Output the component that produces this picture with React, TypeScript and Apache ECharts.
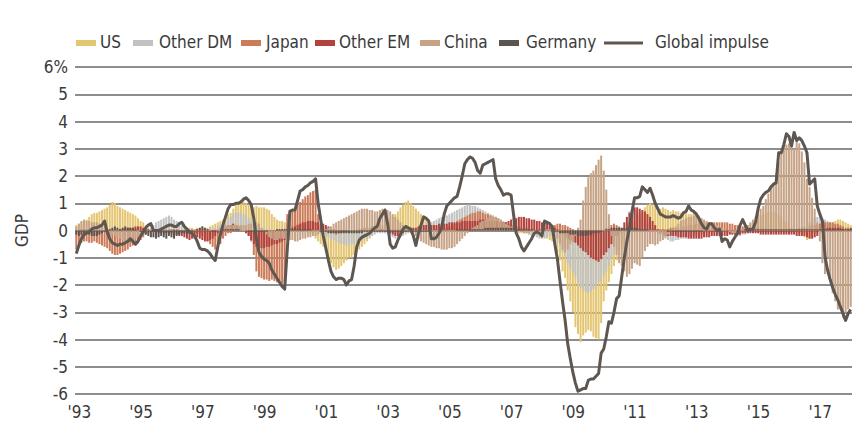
import React, { useEffect, useRef } from "react";
import * as echarts from "echarts";

// Monthly categories Jan 1993 .. Feb 2018
const startYear = 1993;
const monthCount = 302;
const categories: string[] = [];
for (let i = 0; i < monthCount; i++) {
  const y = startYear + Math.floor(i / 12);
  const m = (i % 12) + 1;
  categories.push(`${y}-${m < 10 ? "0" + m : m}`);
}

const us = [
  0.2, 0.25, 0.3, 0.35, 0.4, 0.5, 0.6, 0.65, 0.65, 0.7, 0.75, 0.8,
  0.85, 0.95, 1.05, 1.0, 0.9, 0.85, 0.8, 0.75, 0.7, 0.65, 0.6, 0.55,
  0.45, 0.35, 0.3, 0.2, 0.1, 0.05, 0.0, -0.05, 0.0, 0.05, 0.05, 0.0,
  0.0, 0.05, 0.05, 0.1, 0.1, 0.05, 0.0, 0.05, 0.1, 0.1, 0.05, 0.1,
  0.1, 0.15, 0.1, 0.1, 0.15, 0.2, 0.25, 0.3, 0.35, 0.4, 0.5, 0.6,
  0.65, 0.8, 0.95, 1.05, 1.1, 1.05, 1.0, 0.95, 0.9, 0.85, 0.9, 0.85,
  0.85, 0.85, 0.8, 0.75, 0.6, 0.5, 0.4, 0.35, 0.35, 0.3, 0.25, 0.2,
  0.15, 0.1, 0.05, 0.0, 0.0, -0.05, -0.1, -0.15, -0.2, -0.3, -0.4, -0.5,
  -0.6, -0.8, -1.0, -1.2, -1.35, -1.45, -1.4, -1.3, -1.2, -1.1, -1.0, -1.0,
  -0.9, -0.8, -0.7, -0.6, -0.5, -0.4, -0.3, -0.2, -0.1, 0.0, 0.1, 0.2,
  0.2, 0.3, 0.4, 0.5, 0.6, 0.7, 0.85, 0.95, 1.05, 1.1, 1.0, 0.9,
  0.8, 0.7, 0.6, 0.5, 0.45, 0.4, 0.3, 0.2, 0.15, 0.1, 0.05, 0.0,
  0.0, 0.05, 0.05, 0.1, 0.1, 0.1, 0.1, 0.05, 0.05, 0.0, 0.0, 0.0,
  0.0, 0.1, 0.2, 0.3, 0.4, 0.5, 0.55, 0.5, 0.45, 0.35, 0.25, 0.15,
  0.1, 0.05, 0.0, -0.05, -0.1, -0.1, -0.1, -0.1, -0.15, -0.15, -0.2, -0.2,
  -0.2, -0.2, -0.25, -0.3, -0.35, -0.4, -0.55, -0.8, -1.1, -1.5, -1.75, -2.2,
  -2.6, -3.0, -3.55, -3.8, -4.1, -3.85, -3.75, -3.65, -3.7, -3.9, -3.95, -4.0,
  -3.4, -2.6, -2.2, -1.9, -1.6, -1.3, -1.1, -0.9, -0.7, -0.55, -0.3, -0.05,
  0.1, 0.3, 0.5, 0.6, 0.7, 0.85, 0.95, 1.0, 0.95, 0.9, 0.85, 0.8,
  0.85, 0.8, 0.75, 0.7, 0.75, 0.7, 0.7, 0.65, 0.7, 0.65, 0.6, 0.6,
  0.7, 0.65, 0.55, 0.45, 0.35, 0.3, 0.25, 0.2, 0.2, 0.15, 0.1, 0.1,
  0.05, 0.0, -0.05, -0.1, -0.05, 0.0, 0.05, 0.1, 0.15, 0.2, 0.25, 0.3,
  0.35, 0.45, 0.55, 0.6, 0.65, 0.7, 0.7, 0.7, 0.65, 0.6, 0.5, 0.4,
  0.3, 0.2, 0.1, 0.05, 0.0, -0.1, -0.15, -0.25, -0.35, -0.3, -0.2, -0.1,
  0.0, 0.1, 0.15, 0.2, 0.25, 0.3, 0.3, 0.35, 0.4, 0.4, 0.35, 0.3,
  0.25, 0.2,
];

const otherDM = [
  0.0, 0.0, 0.0, 0.05, 0.05, 0.05, 0.05, 0.05, 0.05, 0.05, 0.05, 0.05,
  0.05, 0.05, 0.05, 0.05, 0.0, 0.0, 0.0, 0.0, 0.0, 0.0, 0.0, 0.0,
  0.0, 0.0, 0.0, 0.0, 0.05, 0.1, 0.2, 0.3, 0.35, 0.4, 0.45, 0.5,
  0.55, 0.5, 0.4, 0.35, 0.3, 0.2, 0.15, 0.1, 0.05, 0.0, 0.0, 0.0,
  0.0, 0.0, 0.05, 0.05, 0.05, 0.1, 0.1, 0.15, 0.2, 0.25, 0.3, 0.4,
  0.5, 0.6, 0.65, 0.65, 0.65, 0.6, 0.55, 0.45, 0.35, 0.25, 0.2, 0.15,
  0.1, 0.1, 0.05, 0.05, 0.0, 0.0, 0.0, 0.0, 0.05, 0.1, 0.15, 0.2,
  0.2, 0.2, 0.25, 0.25, 0.2, 0.2, 0.15, 0.1, 0.05, 0.0, -0.05, -0.1,
  -0.15, -0.2, -0.25, -0.3, -0.35, -0.4, -0.45, -0.5, -0.5, -0.55, -0.55, -0.5,
  -0.5, -0.45, -0.4, -0.35, -0.3, -0.3, -0.25, -0.2, -0.15, -0.1, -0.1, -0.1,
  -0.1, -0.15, -0.2, -0.25, -0.3, -0.3, -0.25, -0.2, -0.15, -0.1, -0.05, 0.0,
  0.05, 0.1, 0.15, 0.2, 0.25, 0.25, 0.3, 0.35, 0.4, 0.45, 0.5, 0.55,
  0.55, 0.6, 0.65, 0.7, 0.75, 0.8, 0.85, 0.9, 0.95, 0.95, 0.9, 0.9,
  0.85, 0.8, 0.75, 0.7, 0.65, 0.6, 0.55, 0.5, 0.45, 0.4, 0.35, 0.3,
  0.25, 0.2, 0.15, 0.1, 0.05, 0.0, -0.05, -0.1, -0.15, -0.2, -0.2, -0.25,
  -0.3, -0.3, -0.3, -0.25, -0.2, -0.2, -0.3, -0.45, -0.6, -0.8, -1.0, -1.2,
  -1.4, -1.55, -1.7, -1.9, -2.1, -2.2, -2.25, -2.3, -2.25, -2.15, -2.05, -1.9,
  -1.85, -1.65, -1.5, -1.3, -1.05, -0.85, -0.7, -0.5, -0.3, -0.1, 0.3, 0.7,
  0.85, 0.8, 0.7, 0.6, 0.5, 0.4, 0.3, 0.2, 0.1, 0.0, -0.1, -0.15,
  -0.2, -0.3, -0.35, -0.4, -0.4, -0.35, -0.35, -0.3, -0.3, -0.3, -0.25, -0.25,
  -0.2, -0.2, -0.15, -0.15, -0.1, -0.1, -0.05, 0.0, 0.0, 0.0, 0.0, 0.0,
  -0.05, -0.1, -0.1, -0.15, -0.15, -0.2, -0.2, -0.15, -0.15, -0.1, -0.05, 0.0,
  0.05, 0.05, 0.1, 0.1, 0.1, 0.1, 0.1, 0.05, 0.05, 0.05, 0.0, 0.0,
  0.0, 0.0, 0.0, 0.0, 0.05, 0.05, 0.1, 0.15, 0.2, 0.3, 0.4, 0.45,
  0.5, 0.5, 0.45, 0.4, 0.35, 0.3, 0.25, 0.2, 0.15, 0.1, 0.1, 0.05,
  0.05, 0.05,
];

const japan = [
  -0.7, -0.6, -0.45, -0.4, -0.4, -0.45, -0.45, -0.4, -0.45, -0.5, -0.55, -0.6,
  -0.65, -0.75, -0.85, -0.9, -0.9, -0.85, -0.8, -0.75, -0.7, -0.6, -0.55, -0.5,
  -0.45, -0.35, -0.25, -0.15, -0.1, -0.05, 0.0, 0.0, 0.05, 0.05, 0.0, 0.0,
  0.0, 0.05, 0.05, 0.05, 0.0, 0.0, 0.0, -0.05, -0.05, -0.05, -0.1, -0.1,
  -0.1, -0.2, -0.3, -0.4, -0.5, -0.6, -0.7, -0.65, -0.5, -0.3, -0.2, -0.1,
  -0.1, -0.05, 0.0, 0.05, 0.05, 0.0, -0.1, -0.2, -0.4, -0.9, -1.5, -1.7,
  -1.75, -1.8, -1.8, -1.85, -1.8, -1.85, -1.9, -1.85, -1.95, -1.9, 0.6, 0.7,
  0.75, 0.85, 0.95, 1.05, 1.15, 1.25, 1.3, 1.4, 1.45, 1.5, 0.6, 0.2,
  0.1, 0.0, -0.05, -0.1, -0.1, -0.15, -0.1, -0.1, -0.05, -0.05, 0.0, 0.0,
  0.0, 0.0, 0.0, 0.0, 0.0, 0.0, 0.0, 0.0, 0.05, 0.05, 0.05, 0.05,
  0.05, 0.05, 0.05, 0.05, 0.05, 0.05, 0.05, 0.05, 0.05, 0.05, 0.05, 0.05,
  0.05, 0.0, 0.0, -0.05, -0.05, -0.05, 0.0, 0.0, 0.05, 0.05, 0.05, 0.1,
  0.1, 0.15, 0.2, 0.25, 0.35, 0.4, 0.45, 0.5, 0.55, 0.6, 0.65, 0.65,
  0.7, 0.7, 0.65, 0.6, 0.6, 0.55, 0.5, 0.45, 0.4, 0.35, 0.3, 0.3,
  0.25, 0.2, 0.2, 0.15, 0.15, 0.1, 0.1, 0.1, 0.05, 0.05, 0.05, 0.05,
  0.05, 0.05, 0.1, 0.1, 0.15, 0.2, 0.2, 0.25, 0.25, 0.2, 0.2, 0.15,
  0.1, 0.05, 0.0, -0.05, -0.1, -0.15, -0.2, -0.2, -0.2, -0.15, -0.1, -0.05,
  0.0, 0.05, 0.1, 0.15, 0.2, 0.25, 0.2, 0.15, 0.1, 0.05, 0.0, 0.0,
  0.0, 0.0, 0.0, -0.05, -0.05, -0.05, 0.0, 0.0, 0.05, 0.05, 0.05, 0.05,
  0.05, 0.05, 0.05, 0.1, 0.1, 0.1, 0.1, 0.1, 0.15, 0.15, 0.2, 0.2,
  0.2, 0.25, 0.25, 0.25, 0.3, 0.3, 0.3, 0.3, 0.3, 0.3, 0.3, 0.3,
  0.3, 0.3, 0.25, 0.25, 0.2, 0.2, 0.2, 0.15, 0.15, 0.15, 0.1, 0.1,
  0.1, 0.1, 0.05, 0.05, 0.05, 0.05, 0.05, 0.05, 0.05, 0.0, 0.0, 0.0,
  0.0, 0.0, 0.05, 0.05, 0.05, 0.1, 0.1, 0.1, 0.15, 0.15, 0.2, 0.2,
  0.25, 0.25, 0.3, 0.3, 0.3, 0.3, 0.3, 0.25, 0.25, 0.2, 0.15, 0.1,
  0.1, 0.05,
];

const otherEM = [
  0.0, 0.0, 0.05, 0.05, 0.05, 0.05, 0.05, 0.05, 0.0, 0.0, 0.0, 0.0,
  0.0, 0.0, 0.0, 0.0, 0.0, 0.05, 0.05, 0.05, 0.1, 0.1, 0.1, 0.15,
  0.15, 0.15, 0.1, 0.1, 0.05, 0.0, -0.05, -0.05, -0.1, -0.1, -0.1, -0.1,
  -0.1, -0.1, -0.15, -0.15, -0.2, -0.2, -0.25, -0.3, -0.35, -0.3, -0.3, -0.25,
  -0.3, -0.35, -0.4, -0.4, -0.35, -0.3, -0.2, -0.1, 0.0, 0.1, 0.15, 0.2,
  0.2, 0.25, 0.2, 0.15, 0.1, 0.0, -0.1, -0.2, -0.35, -0.5, -0.6, -0.65,
  -0.65, -0.65, -0.6, -0.6, -0.55, -0.5, -0.5, -0.45, -0.4, -0.35, -0.2, 0.0,
  0.1, 0.15, 0.2, 0.25, 0.3, 0.3, 0.35, 0.35, 0.35, 0.3, 0.3, 0.25,
  0.25, 0.2, 0.15, 0.1, 0.05, 0.0, 0.0, -0.05, -0.05, -0.05, 0.0, 0.0,
  0.0, 0.0, 0.05, 0.05, 0.1, 0.1, 0.1, 0.15, 0.15, 0.1, 0.1, 0.05,
  0.0, -0.05, -0.1, -0.15, -0.2, -0.2, -0.15, -0.1, -0.05, 0.0, 0.05, 0.1,
  0.1, 0.15, 0.15, 0.2, 0.2, 0.2, 0.2, 0.2, 0.2, 0.25, 0.25, 0.25,
  0.25, 0.3, 0.3, 0.3, 0.3, 0.3, 0.35, 0.35, 0.35, 0.35, 0.35, 0.35,
  0.35, 0.4, 0.4, 0.4, 0.35, 0.35, 0.35, 0.35, 0.3, 0.3, 0.3, 0.3,
  0.35, 0.4, 0.45, 0.45, 0.5, 0.5, 0.5, 0.45, 0.45, 0.4, 0.4, 0.35,
  0.35, 0.3, 0.3, 0.25, 0.2, 0.15, 0.1, 0.05, 0.0, -0.1, -0.2, -0.3,
  -0.35, -0.4, -0.45, -0.55, -0.65, -0.75, -0.8, -0.9, -1.0, -1.05, -1.1, -1.15,
  -1.05, -0.9, -0.8, -0.65, -0.5, -0.35, -0.2, -0.1, 0.05, 0.3, 0.5, 0.65,
  0.8, 0.85, 0.85, 0.8, 0.75, 0.7, 0.6, 0.5, 0.35, 0.2, 0.05, -0.1,
  -0.15, -0.2, -0.2, -0.2, -0.2, -0.2, -0.25, -0.25, -0.25, -0.25, -0.3, -0.3,
  -0.3, -0.3, -0.3, -0.3, -0.25, -0.25, -0.25, -0.2, -0.2, -0.2, -0.2, -0.2,
  -0.2, -0.2, -0.15, -0.15, -0.15, -0.15, -0.15, -0.1, -0.1, -0.1, -0.1, -0.1,
  -0.1, -0.1, -0.15, -0.15, -0.15, -0.15, -0.15, -0.15, -0.15, -0.15, -0.15, -0.15,
  -0.15, -0.15, -0.15, -0.15, -0.2, -0.2, -0.2, -0.2, -0.25, -0.3, -0.3, -0.25,
  -0.2, -0.1, 0.0, 0.05, 0.1, 0.1, 0.1, 0.1, 0.1, 0.1, 0.05, 0.0,
  0.05, 0.1,
];

const china = [
  0.15, 0.25, 0.35, 0.4, 0.35, 0.35, 0.3, 0.3, 0.3, 0.25, 0.2, 0.15,
  0.05, -0.05, -0.15, -0.2, -0.25, -0.3, -0.35, -0.4, -0.4, -0.35, -0.3, -0.3,
  -0.25, -0.2, -0.15, -0.1, -0.05, 0.0, 0.0, 0.0, 0.05, 0.05, 0.05, 0.05,
  0.05, 0.05, 0.0, 0.0, 0.0, 0.0, 0.0, 0.0, 0.0, 0.05, 0.05, 0.05,
  0.05, 0.05, 0.05, 0.05, 0.05, 0.0, 0.0, 0.05, 0.1, 0.15, 0.2, 0.2,
  0.2, 0.2, 0.2, 0.2, 0.2, 0.2, 0.2, 0.25, 0.25, 0.3, 0.3, 0.25,
  0.1, -0.05, -0.15, -0.25, -0.3, -0.35, -0.35, -0.3, -0.3, -0.3, -0.3, -0.35,
  -0.35, -0.4, -0.4, -0.35, -0.3, -0.3, -0.25, -0.25, -0.2, -0.2, -0.15, -0.1,
  0.0, 0.05, 0.1, 0.15, 0.25, 0.3, 0.35, 0.4, 0.45, 0.5, 0.55, 0.6,
  0.65, 0.7, 0.75, 0.8, 0.8, 0.8, 0.75, 0.75, 0.7, 0.7, 0.75, 0.8,
  0.8, 0.75, 0.7, 0.6, 0.5, 0.4, 0.3, 0.2, 0.1, 0.0, -0.1, -0.2,
  -0.2, -0.3, -0.4, -0.45, -0.5, -0.55, -0.6, -0.6, -0.65, -0.65, -0.7, -0.7,
  -0.7, -0.65, -0.65, -0.6, -0.5, -0.4, -0.3, -0.2, -0.1, 0.0, 0.1, 0.15,
  0.2, 0.3, 0.35, 0.4, 0.45, 0.5, 0.5, 0.5, 0.45, 0.4, 0.3, 0.25,
  0.2, 0.15, 0.1, 0.05, 0.0, -0.05, -0.1, -0.1, -0.1, -0.05, 0.0, 0.0,
  0.0, 0.0, 0.0, 0.05, 0.05, 0.0, -0.1, -0.3, -0.5, -0.7, -0.8, -0.7,
  -0.5, -0.4, -0.2, 0.1, 0.4, 1.1, 1.6, 1.95, 2.1, 2.2, 2.4, 2.6,
  2.75, 2.2, 1.5, 0.6, -0.2, -0.6, -0.9, -1.2, -1.3, -1.5, -1.7, -1.6,
  -1.4, -1.2, -1.25, -1.3, -1.0, -0.75, -0.6, -0.5, -0.5, -0.55, -0.5, -0.4,
  -0.35, -0.25, -0.15, -0.05, 0.05, 0.15, 0.25, 0.35, 0.4, 0.45, 0.5, 0.5,
  0.55, 0.55, 0.5, 0.45, 0.4, 0.35, 0.3, 0.25, 0.2, 0.2, 0.15, 0.1,
  0.05, 0.0, -0.05, -0.1, -0.1, -0.05, 0.0, 0.05, 0.1, 0.2, 0.3, 0.4,
  0.5, 0.65, 0.8, 0.9, 1.15, 1.35, 1.55, 1.75, 2.1, 2.5, 2.85, 3.1,
  3.15, 3.2, 3.1, 3.0, 3.3, 3.2, 2.9, 2.5, 1.9, 1.6, 1.2, 0.8,
  0.3, -0.4, -1.2, -1.6, -1.0, -1.8, -2.3, -2.6, -2.9, -2.9, -3.2, -3.0,
  -2.9, -2.8,
];

const germany = [
  -0.15, -0.2, -0.15, -0.1, -0.1, -0.15, -0.2, -0.2, -0.2, -0.15, -0.1, -0.05,
  0.0, 0.05, 0.1, 0.15, 0.1, 0.05, 0.1, 0.15, 0.1, 0.1, 0.1, 0.05,
  0.0, -0.05, -0.1, -0.15, -0.2, -0.25, -0.25, -0.3, -0.25, -0.2, -0.25, -0.3,
  -0.2, -0.25, -0.3, -0.2, -0.15, -0.1, -0.1, -0.15, -0.1, -0.05, 0.0, 0.05,
  0.1, 0.15, 0.1, 0.05, 0.0, -0.05, -0.05, 0.0, 0.0, 0.05, 0.05, 0.05,
  0.05, 0.05, 0.05, 0.05, 0.0, 0.0, 0.0, -0.05, -0.05, -0.05, -0.05, -0.05,
  -0.05, -0.05, -0.05, 0.0, 0.0, 0.0, 0.05, 0.05, 0.05, 0.05, 0.05, 0.05,
  0.05, 0.05, 0.05, 0.05, 0.05, 0.05, 0.05, 0.05, 0.0, 0.0, 0.0, -0.05,
  -0.05, -0.05, -0.1, -0.1, -0.1, -0.1, -0.1, -0.1, -0.1, -0.1, -0.1, -0.1,
  -0.1, -0.1, -0.1, -0.1, -0.05, -0.05, -0.05, -0.05, -0.05, -0.05, -0.05, -0.05,
  -0.05, -0.05, -0.05, -0.05, -0.05, -0.05, -0.05, -0.05, -0.05, -0.05, -0.05, -0.05,
  -0.05, -0.05, -0.05, -0.05, -0.05, -0.05, 0.0, 0.0, 0.0, 0.0, 0.0, 0.0,
  0.0, 0.0, 0.0, 0.0, 0.05, 0.05, 0.05, 0.05, 0.05, 0.05, 0.05, 0.05,
  0.05, 0.05, 0.05, 0.1, 0.1, 0.1, 0.1, 0.1, 0.1, 0.1, 0.1, 0.1,
  0.1, 0.1, 0.1, 0.1, 0.05, 0.05, 0.05, 0.05, 0.05, 0.05, 0.0, 0.0,
  0.0, 0.0, 0.0, 0.0, 0.0, -0.05, -0.05, -0.05, -0.1, -0.1, -0.1, -0.1,
  -0.15, -0.15, -0.15, -0.2, -0.2, -0.2, -0.2, -0.15, -0.15, -0.1, -0.1, -0.1,
  -0.05, 0.0, 0.05, 0.05, 0.1, 0.1, 0.1, 0.1, 0.1, 0.1, 0.1, 0.1,
  0.1, 0.1, 0.1, 0.05, 0.05, 0.05, 0.05, 0.0, 0.0, 0.0, 0.0, 0.0,
  0.0, 0.0, -0.05, -0.05, -0.05, -0.05, -0.05, -0.05, -0.05, -0.05, -0.05, -0.05,
  -0.05, -0.05, -0.05, -0.05, 0.0, 0.0, 0.0, 0.0, 0.0, 0.0, 0.0, 0.0,
  0.0, 0.0, 0.0, 0.0, 0.0, 0.0, 0.0, 0.0, 0.05, 0.05, 0.05, 0.05,
  0.05, 0.05, 0.05, 0.05, 0.05, 0.05, 0.05, 0.05, 0.05, 0.05, 0.05, 0.05,
  0.05, 0.05, 0.05, 0.05, 0.05, 0.05, 0.05, 0.05, 0.05, 0.05, 0.05, 0.05,
  0.05, 0.05, 0.05, 0.05, 0.05, 0.05, 0.05, 0.05, 0.05, 0.05, 0.05, 0.05,
  0.05, 0.05,
];

const globalImpulse = [
  -0.85, -0.55, -0.3, -0.15, -0.1, -0.05, 0.05, 0.1, 0.1, 0.15, 0.2, 0.35,
  -0.05, -0.3, -0.45, -0.5, -0.55, -0.5, -0.5, -0.45, -0.4, -0.3, -0.4, -0.5,
  -0.4, -0.2, -0.05, 0.1, 0.2, 0.25, 0.0, 0.0, 0.0, 0.05, 0.1, 0.15,
  0.2, 0.2, 0.15, 0.15, 0.25, 0.3, 0.15, 0.05, -0.05, -0.1, -0.2, -0.4,
  -0.65, -0.7, -0.7, -0.75, -0.85, -1.0, -1.1, -0.6, -0.15, 0.2, 0.5, 0.8,
  0.95, 0.95, 1.0, 1.0, 1.05, 1.15, 1.2, 1.1, 0.95, 0.45, -0.3, -0.8,
  -0.95, -1.05, -1.1, -1.2, -1.45, -1.6, -1.75, -1.9, -2.05, -2.15, -0.7, 0.7,
  0.75, 0.75, 1.1, 1.45, 1.5, 1.6, 1.65, 1.75, 1.8, 1.9, 1.0, 0.4,
  -0.2, -0.65, -1.1, -1.5, -1.7, -1.8, -1.75, -1.75, -1.8, -2.0, -1.85, -1.8,
  -1.3, -0.6, -0.35, -0.25, -0.2, -0.15, -0.1, 0.0, 0.1, 0.15, 0.45, 0.6,
  0.75, 0.25, -0.5, -0.65, -0.6, -0.35, -0.15, 0.05, 0.15, 0.1, 0.05, -0.2,
  -0.55, -0.1, 0.2, 0.5, 0.45, 0.35, -0.3, -0.3, -0.25, -0.1, 0.1, 0.6,
  0.9, 1.0, 1.1, 1.2, 1.25, 1.6, 2.0, 2.45, 2.6, 2.7, 2.65, 2.5,
  2.2, 2.1, 2.4, 2.45, 2.5, 2.55, 2.6, 1.9, 1.65, 1.5, 1.3, 1.35,
  1.35, 1.3, 0.55, -0.1, -0.3, -0.6, -0.75, -0.6, -0.45, -0.3, -0.1, -0.05,
  -0.1, -0.2, 0.35, 0.3, 0.25, 0.15, -0.5, -1.05, -1.85, -2.6, -3.3, -4.15,
  -4.7, -5.2, -5.6, -5.9, -5.85, -5.8, -5.8, -5.5, -5.45, -5.45, -5.35, -5.25,
  -4.5, -4.35, -3.9, -3.35, -3.4, -3.0, -2.5, -2.4, -1.7, -1.0, -0.4, 0.1,
  0.7, 1.2, 1.2, 1.25, 1.6, 1.5, 1.4, 1.55, 1.3, 1.0, 0.8, 0.6,
  0.55, 0.5, 0.5, 0.5, 0.55, 0.5, 0.45, 0.5, 0.65, 0.7, 0.9, 0.75,
  0.7, 0.6, 0.45, 0.25, 0.1, 0.05, 0.25, 0.25, 0.1, 0.0, 0.05, -0.4,
  -0.3, -0.35, -0.6, -0.4, -0.25, -0.1, 0.2, 0.4, 0.2, 0.0, 0.05, 0.05,
  0.3, 0.8, 1.15, 1.3, 1.4, 1.45, 1.6, 1.7, 1.75, 2.85, 2.85, 3.15,
  3.55, 3.45, 3.1, 3.6, 3.3, 3.4, 3.3, 3.1, 2.85, 1.7, 1.8, 1.9,
  0.9, 0.6, 0.35, -0.95, -1.45, -1.8, -2.1, -2.35, -2.55, -2.8, -3.05, -3.3,
  -3.05, -2.9,
];

const seriesNames = ["US", "Other DM", "Japan", "Other EM", "China", "Germany"];
const seriesColors = ["#e4c672", "#c2c2c2", "#cc7a57", "#b3423c", "#c6a386", "#5c544e"];
const seriesData = [us, otherDM, japan, otherEM, china, germany];
const lineName = "Global impulse";
const lineColor = "#5e5650";

const FONT = "'Liberation Sans Narrow', 'DejaVu Sans Condensed', 'Roboto Condensed', Roboto, sans-serif";
const TEXT_COLOR = "#3a3a3a";

export default function App() {
  const ref = useRef<HTMLDivElement>(null);
  useEffect(() => {
    document.body.style.margin = "0";
    if (!ref.current) return;
    const chart = echarts.init(ref.current, undefined, { renderer: "svg" });

    const legendPos = [
      { x: 76, tx: 100 },
      { x: 133, tx: 159 },
      { x: 241, tx: 266 },
      { x: 315, tx: 339 },
      { x: 420, tx: 444 },
      { x: 499, tx: 526 },
    ];
    const legendEls: any[] = [];
    seriesNames.forEach((n, i) => {
      legendEls.push({
        type: "rect",
        shape: { x: legendPos[i].x, y: 40, width: 20, height: 6 },
        style: { fill: seriesColors[i] },
      });
      legendEls.push({
        type: "text",
        x: legendPos[i].tx,
        y: 42,
        style: { text: n, fill: TEXT_COLOR, font: `17px ${FONT}`, verticalAlign: "middle" },
      });
    });
    legendEls.push({
      type: "line",
      shape: { x1: 604, y1: 43, x2: 643, y2: 43 },
      style: { stroke: lineColor, lineWidth: 3 },
    });
    legendEls.push({
      type: "text",
      x: 655,
      y: 42,
      style: { text: lineName, fill: TEXT_COLOR, font: `17px ${FONT}`, verticalAlign: "middle" },
    });

    const option: any = {
      animation: false,
      grid: { left: 75, right: 0, top: 67, bottom: 32, containLabel: false },
      graphic: legendEls,
      xAxis: {
        type: "category",
        data: categories,
        boundaryGap: true,
        axisLine: { show: false },
        axisTick: { show: false },
        splitLine: { show: false },
        axisLabel: {
          interval: (idx: number) => idx % 24 === 0,
          formatter: (v: string) => "'" + v.slice(2, 4),
          fontSize: 17,
          fontFamily: FONT,
          color: TEXT_COLOR,
          margin: 9,
          padding: [0, 0, 0, 6],
        },
      },
      yAxis: {
        type: "value",
        min: -6,
        max: 6,
        interval: 1,
        name: "GDP",
        nameLocation: "middle",
        nameRotate: 90,
        nameGap: 45,
        nameTextStyle: { fontSize: 17, fontFamily: FONT, color: TEXT_COLOR },
        axisLine: { show: false },
        axisTick: { show: false },
        axisLabel: {
          formatter: (v: number) => (v === 6 ? "6%" : String(v)),
          fontSize: 17,
          fontFamily: FONT,
          color: TEXT_COLOR,
          margin: 7,
        },
        splitLine: { lineStyle: { color: "#676767", width: 1.5 } },
      },
      series: [
        ...seriesNames.map((n, i) => ({
          name: n,
          type: "bar",
          data: seriesData[i],
          barWidth: 2,
          barGap: "-100%",
          itemStyle: { color: seriesColors[i] },
          silent: true,
          z: 2,
        })),
        {
          name: lineName,
          type: "line",
          data: globalImpulse,
          symbol: "none",
          lineStyle: { color: lineColor, width: 3, join: "round" },
          silent: true,
          z: 5,
        },
      ],
    };
    chart.setOption(option);
    return () => chart.dispose();
  }, []);
  return <div ref={ref} style={{ width: 852, height: 426 }} />;
}
